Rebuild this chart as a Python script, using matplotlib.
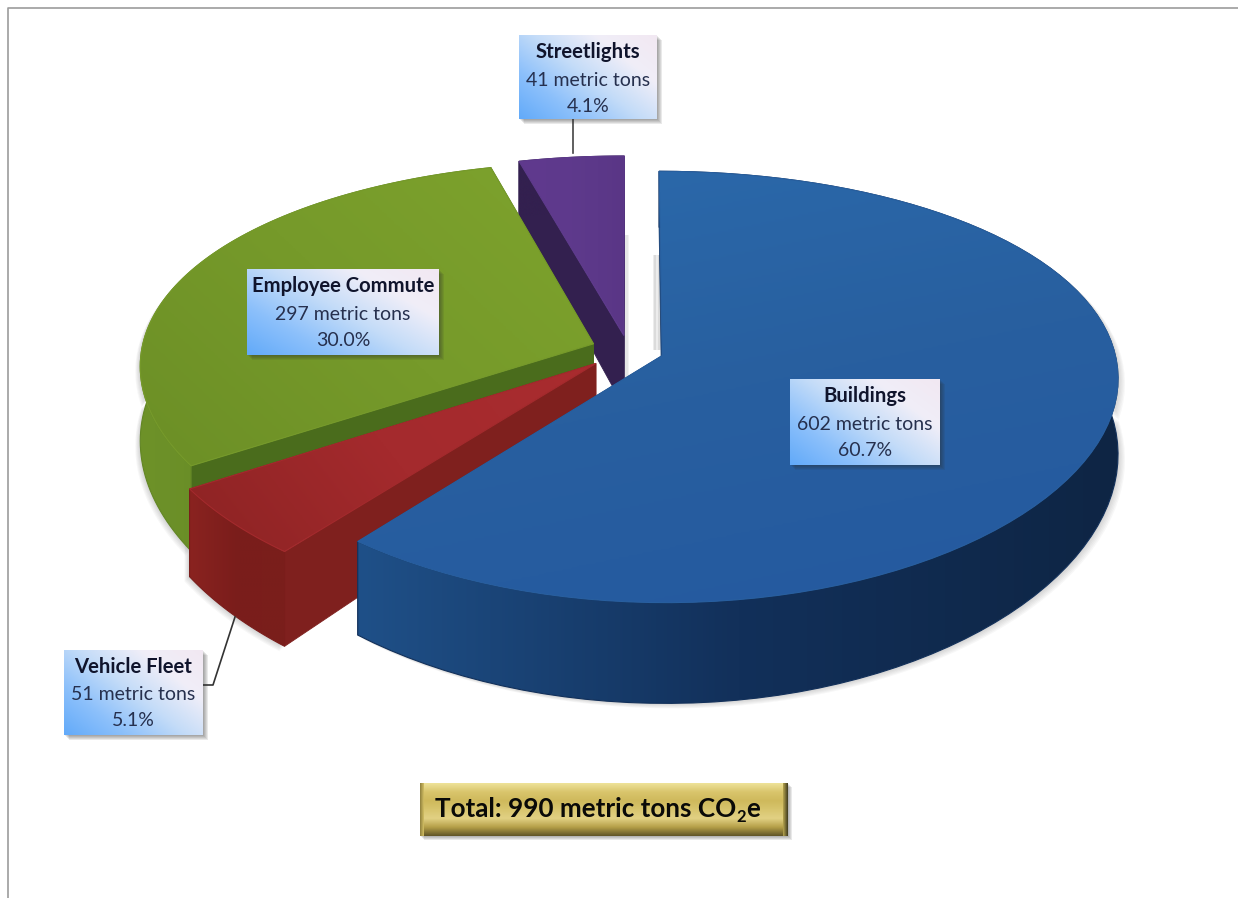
import numpy as np
import matplotlib
matplotlib.use('Agg')
import matplotlib.pyplot as plt
from matplotlib.colors import LinearSegmentedColormap
from matplotlib.patches import Polygon

# data, clockwise from 12 o'clock
categories = ['Buildings', 'Vehicle Fleet', 'Employee Commute', 'Streetlights']
tons = [602, 51, 297, 41]
total_tons = 990
explode = [0.08, 0.095, 0.082, 0.07]

# perspective disc
CX, CY, RX, RY = 628, 350, 452, 209.5
KX, KY = 0.10, 0.145
DEPTH = 73

plt.rcParams['font.family'] = ['Lato', 'DejaVu Sans']

fig = plt.figure(figsize=(12.38, 8.98), dpi=100)
ax = fig.add_axes([0, 0, 1, 1])
ax.set_xlim(0, 1238)
ax.set_ylim(898, 0)
ax.axis('off')

zo = [10]


def next_z():
    zo[0] += 1
    return zo[0]


def project(u, v, z=0.0):
    fx = 1 / (1 - KX * v)
    fy = 1 / (1 - KY * v)
    return CX + RX * u * fx, CY + RY * v * fy + z * DEPTH * fy * fy


def gradient(pts, colors, angle=0.0, edge=True):
    # fill polygon with a linear gradient, angle in degrees in pixel space
    pts = np.asarray(pts)
    x0, y0 = pts.min(axis=0)
    x1, y1 = pts.max(axis=0)
    xx, yy = np.meshgrid(np.linspace(0, 1, 256), np.linspace(0, 1, 256))
    a = np.deg2rad(angle)
    t = xx * np.cos(a) + yy * np.sin(a)
    t = (t - t.min()) / (t.max() - t.min())
    cmap = LinearSegmentedColormap.from_list('g', colors)
    z = next_z()
    im = ax.imshow(t, cmap=cmap, extent=(x0, x1, y1, y0), origin='upper',
                   aspect='auto', interpolation='bilinear', zorder=z)
    clip = Polygon(pts, closed=True, transform=ax.transData)
    im.set_clip_path(clip)
    if edge:
        ax.add_patch(Polygon(pts, closed=True, fill=False, ec=colors[len(colors) // 2],
                             lw=0.8, zorder=z))
    ax.set_xlim(0, 1238)
    ax.set_ylim(898, 0)


def soft_shadow(pts, dx, dy, layers=5, alpha=0.05):
    pts = np.asarray(pts)
    z = next_z()
    for i in range(1, layers + 1):
        ax.add_patch(Polygon(pts + [dx * i / layers, dy * i / layers], closed=True,
                             fc='#303030', ec='none', alpha=alpha, zorder=z))


def wedge(start, end, e):
    mid = np.deg2rad((start + end) / 2)
    ou, ov = e * np.sin(mid), -e * np.cos(mid)
    th = np.deg2rad(np.linspace(start, end, 90))
    return ou, ov, ou + np.sin(th), ov - np.cos(th)


fracs = np.array(tons) / sum(tons)
edges = np.concatenate([[0], np.cumsum(fracs) * 360])

# colours: top gradient, outer wall gradient, cut face
styles = {
    'Buildings': (['#2b6aac', '#285f9f', '#2459a0'], ['#1f5088', '#12305a', '#0e2544'], '#1a3f70'),
    'Vehicle Fleet': (['#8c2323', '#a42a2d', '#a92c2f'], ['#8a2320', '#7a1d1b', '#7a1f1c'], '#7f201e'),
    'Employee Commute': (['#6c8f26', '#769a2a', '#7ea32d'], ['#6e9229', '#628624', '#5a7f1e'], '#4a6c1c'),
    'Streetlights': (['#60398e', '#5e3a8c', '#5a3686'], ['#33204f', '#33204f', '#2c1b46'], '#33204f'),
}
top_angle = {'Buildings': 70, 'Vehicle Fleet': -20, 'Employee Commute': -35, 'Streetlights': 0}

# pie outline shadow
for i in [2, 1, 0]:
    ou, ov, us, vs = wedge(edges[i], edges[i + 1], explode[i])
    low = np.column_stack(project(us, vs, 1.0))
    pts = np.vstack([np.column_stack(project(us, vs, 0.0)), low[::-1]])
    soft_shadow(pts, 7 if i == 0 else -5, 5, layers=6, alpha=0.035)

# soft shadow right of the streetlights slice
soft_shadow([[620, 235], [622, 235], [622, 380], [620, 380]], 7, 0, layers=6, alpha=0.06)

# painter's order: back to front
for i in [3, 2, 1, 0]:
    name = categories[i]
    top_cols, wall_cols, cut_col = styles[name]
    ou, ov, us, vs = wedge(edges[i], edges[i + 1], explode[i])
    tip_top = project(ou, ov, 0.0)
    tip_low = project(ou, ov, 1.0)
    top_arc = np.column_stack(project(us, vs, 0.0))
    low_arc = np.column_stack(project(us, vs, 1.0))
    if name == 'Buildings':
        soft_shadow([[660, 255], [662, 255], [662, 350], [660, 350]], -7, 0, layers=6, alpha=0.09)
    # cut faces
    for a_top, a_low in [(top_arc[-1], low_arc[-1]), (top_arc[0], low_arc[0])]:
        ax.add_patch(Polygon([tip_top, a_top, a_low, tip_low], closed=True, fc=cut_col,
                             ec=cut_col, lw=0.6, zorder=next_z()))
    # outer wall
    wall = np.vstack([top_arc, low_arc[::-1]])
    gradient(wall, wall_cols, 0)
    # top surface
    top = np.vstack([[tip_top], top_arc])
    gradient(top, top_cols, top_angle[name])

# leader lines
z_lead = next_z()
ax.plot([573, 573], [119, 153], color='#444444', lw=1.2, zorder=z_lead)
ax.plot([203, 213, 235], [685, 685, 617], color='#333333', lw=1.2, zorder=z_lead)

# data labels
boxes = {
    'Buildings': (790, 379, 940, 465),
    'Vehicle Fleet': (64, 650, 203, 735),
    'Employee Commute': (247, 269, 439, 355),
    'Streetlights': (519, 35, 657, 119),
}
for i, name in enumerate(categories):
    x0, y0, x1, y1 = boxes[name]
    rect = [[x0, y0], [x1, y0], [x1, y1], [x0, y1]]
    soft_shadow(rect, 5, 5, layers=5, alpha=0.10)
    gradient(rect, ['#62aaf9', '#8cc0fb', '#c4dcf8', '#f0eef8', '#f2e8f2'], -38, edge=False)
    cx = (x0 + x1) / 2
    z = next_z()
    ax.text(cx, y0 + 17, name, ha='center', va='center', fontsize=14.6, fontweight='bold',
            color='#10142c', zorder=z)
    ax.text(cx, y0 + 45, f'{tons[i]} metric tons', ha='center', va='center', fontsize=14,
            color='#26304e', zorder=z)
    ax.text(cx, y0 + 71, f'{fracs[i] * 100:.1f}%', ha='center', va='center', fontsize=14,
            color='#26304e', zorder=z)

# total box
bx0, by0, bx1, by1 = 420, 783, 788, 836
soft_shadow([[bx0, by0], [bx1, by0], [bx1, by1], [bx0, by1]], 4, 4, layers=4, alpha=0.1)
gradient([[bx0, by0], [bx1, by0], [bx1, by1], [bx0, by1]],
         ['#efe39a', '#d9c56c', '#cfb95c', '#d8c56e', '#e2d184', '#b59f48', '#5f5426'], 90, edge=False)
gradient([[bx1 - 5, by0], [bx1, by0], [bx1, by1], [bx1 - 5, by1]], ['#b9a650', '#3f3a1e'], 0, edge=False)
gradient([[bx0, by0], [bx0 + 4, by0], [bx0 + 4, by1], [bx0, by1]], ['#8e7f3c', '#d3bf64'], 0, edge=False)
z = next_z()
t1 = ax.text(435, 809, f'Total: {total_tons} metric tons CO', ha='left', va='center', fontsize=18.7,
             fontweight='bold', color='#0a0a08', zorder=z)
t2 = ax.annotate('2', xy=(1, 0), xycoords=t1, xytext=(0, -3), textcoords='offset points',
                 ha='left', va='bottom', fontsize=12, fontweight='bold', color='#0a0a08', zorder=z)
t3 = ax.annotate('e', xy=(1, 0), xycoords=t2, xytext=(0, 3), textcoords='offset points',
                 ha='left', va='bottom', fontsize=18.7, fontweight='bold', color='#0a0a08', zorder=z)

# chart frame
z = next_z()
ax.plot([8, 8, 1238], [898, 8, 8], color='#9c9c9c', lw=1.2, zorder=z, clip_on=False)

fig.savefig('out.png', dpi=100, facecolor='white')
